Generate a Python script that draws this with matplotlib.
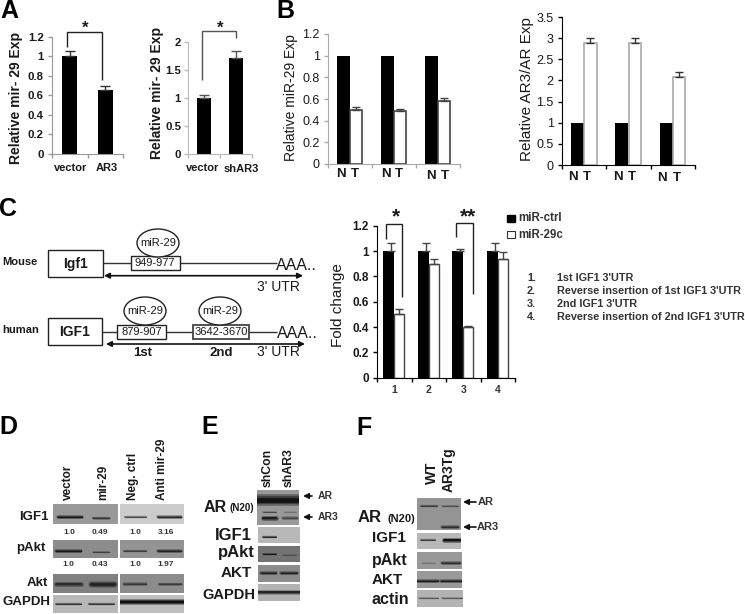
import matplotlib
matplotlib.use('Agg')
import matplotlib.pyplot as plt
from matplotlib.patches import Rectangle, Ellipse

plt.rcParams['font.family'] = ['Liberation Sans', 'DejaVu Sans']

W, H = 745, 614

# panel A
a1_labels = ['vector', 'AR3']
a1_vals = [1.0, 0.65]
a1_err = [0.05, 0.04]
a1_ticks = [0, 0.2, 0.4, 0.6, 0.8, 1, 1.2]
a2_labels = ['vector', 'shAR3']
a2_vals = [1.0, 1.72]
a2_err = [0.05, 0.12]
a2_ticks = [0, 0.5, 1, 1.5, 2]

# panel B
b1_normal = [1, 1, 1]
b1_tumor = [0.5, 0.49, 0.58]
b1_err = [0.025, 0.015, 0.025]
b1_ticks = [0, 0.2, 0.4, 0.6, 0.8, 1, 1.2]
b2_normal = [1, 1, 1]
b2_tumor = [2.88, 2.88, 2.07]
b2_err = [0.12, 0.12, 0.12]
b2_ticks = [0, 0.5, 1, 1.5, 2, 2.5, 3, 3.5]

# panel C
c_groups = ['1', '2', '3', '4']
c_ctrl = [1, 1, 1, 1]
c_ctrl_err = [0.06, 0.06, 0.015, 0.06]
c_29c = [0.5, 0.9, 0.4, 0.94]
c_29c_err = [0.04, 0.04, 0.005, 0.05]
c_ticks = [0, 0.2, 0.4, 0.6, 0.8, 1, 1.2]
c_notes = ['1st IGF1 3\'UTR', 'Reverse insertion of 1st IGF1 3\'UTR',
           '2nd IGF1 3\'UTR', 'Reverse insertion of 2nd IGF1 3\'UTR']

# densitometry numbers under the blots in D
d_igf1 = ['1.0', '0.49', '1.0', '3.16']
d_pakt = ['1.0', '0.43', '1.0', '1.97']

fig = plt.figure(figsize=(W / 100, H / 100), dpi=100)


def px_axes(x0, x1, ytop, ybot):
    return fig.add_axes([x0 / W, 1 - ybot / H, (x1 - x0) / W, (ybot - ytop) / H])


def style_axes(ax, ymax, ticks, n, color, size, bold, pad=3):
    ax.set_xlim(-0.5, n - 0.5)
    ax.set_ylim(0, ymax)
    ax.patch.set_alpha(0)
    ax.spines['top'].set_visible(False)
    ax.spines['right'].set_visible(False)
    ax.spines['left'].set_color(color)
    ax.spines['bottom'].set_color(color)
    ax.set_yticks(ticks)
    ax.set_yticklabels([('%g' % t) for t in ticks], fontsize=size,
                       fontweight='bold' if bold else 'normal', color='#1a1a1a')
    ax.tick_params(axis='y', length=3, width=1, color=color, pad=pad)
    ax.set_xticks([i - 0.5 for i in range(n + 1)])
    ax.set_xticklabels([])
    ax.tick_params(axis='x', length=3, width=1, color=color)


# A
ax = px_axes(52, 123, 36.7, 153.5)
style_axes(ax, 1.2, a1_ticks, 2, '#999999', 8.2, True)
ax.bar(range(2), a1_vals, 0.42, color='black')
ax.errorbar(range(2), a1_vals, yerr=[[0, 0], a1_err], fmt='none', ecolor='#333333', capsize=3.5, lw=1)

ax = px_axes(188, 252, 42, 153.7)
style_axes(ax, 2, a2_ticks, 2, '#bbbbbb', 8.2, True, pad=2)
ax.bar(range(2), a2_vals, 0.44, color='black')
ax.errorbar(range(2), a2_vals, yerr=[[0, 0], a2_err], fmt='none', ecolor='#555555', capsize=3.5, lw=1)

# B
ax = px_axes(328, 460, 34, 164)
style_axes(ax, 1.2, b1_ticks, 3, '#aaaaaa', 9, False)
xs = list(range(3))
ax.bar([x - 0.15 for x in xs], b1_normal, 0.3, color='black')
ax.bar([x + 0.14 for x in xs], b1_tumor, 0.28, color='white', edgecolor='#444444', lw=1.2)
ax.errorbar([x + 0.14 for x in xs], b1_tumor, yerr=[[0, 0, 0], b1_err], fmt='none',
            ecolor='#444444', capsize=3, lw=1)

ax = px_axes(562, 695, 17, 165)
style_axes(ax, 3.5, b2_ticks, 3, 'black', 9, False)
ax.bar([x - 0.15 for x in xs], b2_normal, 0.3, color='black')
ax.bar([x + 0.14 for x in xs], b2_tumor, 0.28, color='white', edgecolor='#aaaaaa', lw=1.2)
ax.errorbar([x + 0.14 for x in xs], b2_tumor, yerr=[[0, 0, 0], b2_err], fmt='none',
            ecolor='#333333', capsize=3, lw=1)

# C bars
ax = px_axes(377, 515, 225.7, 377.7)
style_axes(ax, 1.2, c_ticks, 4, 'black', 8.5, True)
xs = list(range(4))
ax.bar([x - 0.16 for x in xs], c_ctrl, 0.32, color='black')
ax.bar([x + 0.145 for x in xs], c_29c, 0.29, color='white', edgecolor='#444444', lw=1)
ax.errorbar([x - 0.08 for x in xs], c_ctrl, yerr=[[0] * 4, c_ctrl_err], fmt='none',
            ecolor='#444444', capsize=3, lw=1)
ax.errorbar([x + 0.145 for x in xs], c_29c, yerr=[[0] * 4, c_29c_err], fmt='none',
            ecolor='#444444', capsize=3, lw=1)
ax.set_xticks(xs, minor=True)
ax.set_xticklabels(c_groups, minor=True, fontsize=7.5, fontweight='bold', color='#333333')
ax.tick_params(axis='x', which='minor', length=0, pad=5)

# overlay in image pixels, for everything that is not a plot axis
ov = fig.add_axes([0, 0, 1, 1], zorder=10)
ov.set_xlim(0, W)
ov.set_ylim(H, 0)
ov.axis('off')
ov.patch.set_alpha(0)


def txt(x, y, s, size=8.5, bold=True, ha='center', va='center', rot=0, color='#1a1a1a'):
    ov.text(x, y, s, fontsize=size, fontweight='bold' if bold else 'normal', ha=ha, va=va,
            rotation=rot, color=color)


def poly(xs, ys, color='#222222', lw=1.0):
    ov.plot(xs, ys, color=color, lw=lw, solid_capstyle='butt', solid_joinstyle='miter')


def box(x0, x1, y0, y1, ec='#222222', lw=1.0, fc='white', z=3):
    ov.add_patch(Rectangle((x0, y0), x1 - x0, y1 - y0, fc=fc, ec=ec, lw=lw, zorder=z))


def arrow(x0, x1, y, both=False, lw=1.2):
    style = '<|-|>' if both else '-|>'
    ov.annotate('', xy=(x1, y), xytext=(x0, y),
                arrowprops=dict(arrowstyle=style, color='#111111', lw=lw, shrinkA=0, shrinkB=0,
                                mutation_scale=8))


# panel letters
for x, y, s in [(9, 10.5, 'A'), (285, 10.5, 'B'), (8.5, 209, 'C'), (8.5, 427, 'D'), (210, 427, 'E'), (364, 428, 'F')]:
    txt(x, y, s, size=18, color='black')

# A text
txt(16, 98, 'Relative mir- 29 Exp', size=10, rot=90)
txt(157, 93, 'Relative mir- 29 Exp', size=10, rot=90)
txt(71, 168, a1_labels[0], size=8)
txt(107, 168, a1_labels[1], size=8)
txt(203, 168, a2_labels[0], size=8)
txt(241, 168.5, a2_labels[1], size=8)
poly([67, 67, 102, 102], [47, 32, 32, 80], lw=1)
txt(85, 28, '*', size=12)
poly([202, 202, 236, 236], [80, 31, 31, 38], color='#555555', lw=1)
txt(220, 28, '*', size=12)

# B text
txt(291, 98, 'Relative miR-29 Exp', size=10, bold=False, rot=90)
txt(527, 89, 'Relative AR3/AR Exp', size=11, bold=False, rot=90)
for nx, tx, y in [(341, 355, 174), (386, 399, 174), (431, 445, 176)]:
    txt(nx, y, 'N', size=9.5)
    txt(tx, y, 'T', size=9.5)
for nx, tx, y in [(573, 587, 177), (618, 632, 177), (662, 677, 178)]:
    txt(nx, y, 'N', size=9.5)
    txt(tx, y, 'T', size=9.5)

# C schematic
txt(2, 262, 'Mouse', size=8, ha='left')
poly([103, 277], [262.7, 262.7], color='#333333')
box(48, 103, 250, 277)
txt(76, 264, 'Igf1', size=10)
box(131, 180, 256, 270)
txt(155, 263.5, '949-977', size=8, bold=False)
ov.add_patch(Ellipse((158, 243), 42, 28, fc='white', ec='#222222', lw=1, zorder=3))
txt(158, 243.5, 'miR-29', size=8, bold=False)
txt(276, 265, 'AAA..', size=11.5, bold=False, ha='left')
arrow(104, 303, 275.7, both=True)
txt(278, 287, "3' UTR", size=10, bold=False)

txt(2, 330, 'human', size=8, ha='left')
poly([102, 277], [332, 332], color='#333333')
box(48, 102, 318, 345)
txt(75, 332, 'IGF1', size=10)
box(117, 166, 325, 339)
txt(141.5, 332, '879-907', size=8, bold=False)
box(193, 249, 325, 339, ec='#444444', lw=1.3)
txt(221, 332, '3642-3670', size=8, bold=False)
for cx in [145, 220]:
    ov.add_patch(Ellipse((cx, 311), 42, 28, fc='white', ec='#222222', lw=1, zorder=3))
    txt(cx, 311.5, 'miR-29', size=8, bold=False)
txt(277, 333, 'AAA..', size=11.5, bold=False, ha='left')
arrow(106, 305, 344, both=True)
txt(143, 353, '1st', size=9.5)
txt(221, 353, '2nd', size=9.5)
txt(278, 352, "3' UTR", size=10, bold=False)

# C chart extras
txt(338, 305, 'Fold change', size=11, rot=90, bold=False)
poly([385.7, 385.7, 402, 402], [238.7, 224.3, 224.3, 296.7], lw=1)
poly([456.3, 456.3, 472.7, 472.7], [236.7, 222.7, 222.7, 294], lw=1)
txt(395.7, 217, '*', size=15)
txt(468, 217, '**', size=15)
box(507, 514.5, 214.5, 221.5, ec='black', fc='black')
box(507, 514.5, 230.5, 237.5, ec='#333333', lw=0.8)
txt(518, 218, 'miR-ctrl', size=8.3, ha='left', color='#333333')
txt(518, 234.5, 'miR-29c', size=8.3, ha='left', color='#333333')
for i, note in enumerate(c_notes):
    y = 278 + i * 13
    txt(527, y, '%d.' % (i + 1), size=7.8, ha='left', color='#333333')
    txt(557, y, note, size=7.8, ha='left', color='#333333')


# western blots are drawn as gray strips with soft dark bands
def band(clip, xa, xb, y, thick, dark):
    for k, a in [(1.0, 0.3), (0.7, 0.45), (0.4, 0.8)]:
        ln, = ov.plot([xa, xb], [y, y], color=str(dark), lw=thick * 0.72 * k, alpha=a,
                      solid_capstyle='round', zorder=5)
        ln.set_clip_path(clip)


def blot(x0, x1, y0, y1, gray, bands):
    rect = Rectangle((x0, y0), x1 - x0, y1 - y0, fc=str(gray), ec='none', zorder=4)
    ov.add_patch(rect)
    for b in bands:
        band(rect, *b)


# D
blot(53, 118, 504, 524, 0.6, [(58, 82, 517, 3.5, 0.05), (93, 109, 517.5, 3, 0.2)])
blot(120, 184, 504, 524, 0.8, [(125, 146, 517, 2.5, 0.25), (158, 181, 517, 3.5, 0.1)])
blot(53, 118, 540, 558, 0.55, [(56, 81, 551, 3.5, 0.05), (93, 109, 552, 2, 0.2)])
blot(120, 184, 540, 558, 0.58, [(124, 146, 550.5, 2.5, 0.2), (158, 181, 550.5, 3.5, 0.1)])
blot(53, 118, 574, 593, 0.5, [(56, 81, 584, 5, 0.15), (91, 114, 584, 6.5, 0.1)])
blot(120, 184, 574, 593, 0.55, [(124, 146, 584, 3.5, 0.2), (159, 181, 584, 3, 0.2)])
blot(53, 118, 595, 613, 0.72, [(56, 81, 604, 2.5, 0.15), (89, 114, 604, 2.5, 0.15)])
blot(120, 184, 595, 613, 0.75, [(119, 185, 602, 6, 0.02)])
txt(49, 517, 'IGF1', size=9.5, ha='right')
txt(46, 548, 'pAkt', size=9.5, ha='right')
txt(48, 583, 'Akt', size=9.5, ha='right')
txt(50, 602, 'GAPDH', size=9.5, ha='right')
for x, s in zip([69, 100, 135, 166], d_igf1):
    txt(x, 532, s, size=6, color='#333333')
for x, s in zip([68, 100, 135, 166], d_pakt):
    txt(x, 565, s, size=6, color='#333333')
for x, s in zip([68, 103, 133, 162], ['vector', 'mir-29', 'Neg. ctrl', 'Anti mir-29']):
    txt(x, 500, s, size=8.5, rot=90, va='bottom')

# E
blot(257, 299, 490, 525, 0.6, [(255, 301, 500, 12, 0.03), (263, 276, 512, 1.5, 0.2),
                               (263, 276, 518, 5, 0.08), (283, 297, 518, 3.5, 0.25),
                               (284, 296, 512, 1.2, 0.35)])
blot(258, 300, 527, 543, 0.72, [(263, 276, 537, 2.5, 0.1)])
blot(258, 300, 546, 562, 0.45, [(263, 276, 554, 2, 0.02), (283, 296, 554.5, 1.5, 0.25)])
blot(258, 300, 565, 582, 0.55, [(261, 276, 573, 3.5, 0.1), (281, 297, 573, 3.5, 0.1)])
blot(258, 300, 584, 601, 0.7, [(256, 302, 592, 4.5, 0.08)])
txt(204, 507, 'AR', size=11.5, ha='left')
txt(230, 508, '(N20)', size=7, ha='left')
txt(252, 536, 'IGF1', size=12, ha='right')
txt(255, 552, 'pAkt', size=12, ha='right')
txt(252, 573, 'AKT', size=11, ha='right')
txt(255, 595, 'GAPDH', size=10.5, ha='right')
txt(268, 487, 'shCon', size=8.8, rot=90, va='bottom')
txt(289, 487, 'shAR3', size=8.8, rot=90, va='bottom')
arrow(312, 303, 496)
arrow(312, 303, 517)
txt(318, 496, 'AR', size=7.5, ha='left', color='#333333')
txt(318, 517, 'AR3', size=7.5, ha='left', color='#333333')

# F
blot(417, 461, 498, 530, 0.58, [(421, 437, 506, 2.5, 0.2), (442, 458, 506, 2, 0.25),
                                (442, 458, 527, 3.5, 0.15)])
blot(417, 461, 533, 549, 0.72, [(421, 435, 540, 2.5, 0.2), (444, 460, 540, 5, 0.02)])
blot(417, 462, 552, 569, 0.6, [(422, 435, 563, 1.5, 0.4), (442, 460, 563, 3.5, 0.15)])
blot(417, 462, 571, 588, 0.6, [(415, 438, 581, 3.5, 0.08), (441, 464, 581, 3.5, 0.08)])
blot(417, 463, 590, 607, 0.7, [(419, 438, 598, 2, 0.3), (442, 462, 598, 2, 0.3)])
txt(358, 517, 'AR', size=12, ha='left')
txt(387, 518.5, '(N20)', size=8, ha='left')
txt(372, 538, 'IGF1', size=11, ha='left')
txt(372, 561, 'pAkt', size=11.5, ha='left')
txt(372, 580, 'AKT', size=11, ha='left')
txt(372, 599, 'actin', size=11.5, ha='left')
txt(432, 484, 'WT', size=10.4, rot=90, va='bottom')
txt(449, 492, 'AR3Tg', size=10, rot=90, va='bottom')
arrow(476, 463, 502)
arrow(476, 463, 527)
txt(478, 502, 'AR', size=8, ha='left', color='#333333')
txt(477, 527, 'AR3', size=8, ha='left', color='#333333')

fig.savefig('out.png', dpi=100)
